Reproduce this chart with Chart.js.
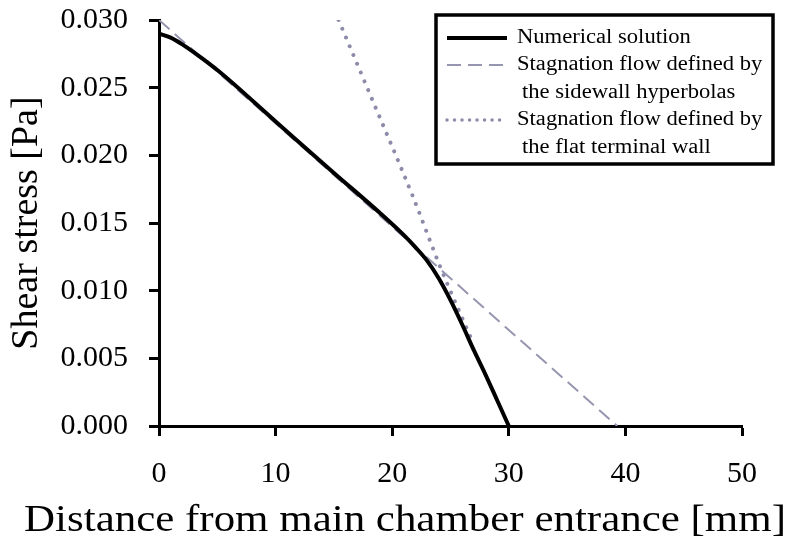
<!DOCTYPE html>
<html>
<head>
<meta charset="utf-8">
<script src="https://cdn.jsdelivr.net/npm/chart.js@4/dist/chart.umd.min.js"></script>
<style>
  body { margin: 0; background: #fff; }
  canvas { display: block; }
</style>
</head>
<body>
<canvas id="myChart" width="800" height="556"></canvas>
<script>
const FONT = "'Liberation Serif', 'Times New Roman', serif";

// numerical solution, distance [mm] vs shear stress [Pa]
const numX = [0, 1, 2, 3, 5, 10, 15, 19, 21, 22, 23, 24, 25, 26, 27, 28, 29, 30];
const numY = [0.0290, 0.0287, 0.0282, 0.0276, 0.0263, 0.0225, 0.0187, 0.0157, 0.0141, 0.0132, 0.0122, 0.0109, 0.0093, 0.0075, 0.0056, 0.0038, 0.0019, 0.0000];

// stagnation flow, sidewall hyperbolas
const hypX = [0, 39.3];
const hypY = [0.0300, 0.0000];

// stagnation flow, flat terminal wall
const flatX = [15.4, 18, 21.8, 24.1, 26.9];
const flatY = [0.0300, 0.0247, 0.0169, 0.0118, 0.0062];

const xTicks = [0, 10, 20, 30, 40, 50];
const yTicks = [0, 0.005, 0.010, 0.015, 0.020, 0.025, 0.030];

const xTitle = 'Distance from main chamber entrance [mm]';
const yTitle = 'Shear stress [Pa]';
const legendLabels = [
    ['Numerical solution'],
    ['Stagnation flow defined by', 'the sidewall hyperbolas'],
    ['Stagnation flow defined by', 'the flat terminal wall']
];

function pts(xs, ys) {
    return xs.map((x, i) => ({ x: x, y: ys[i] }));
}

const lineColor = 'rgb(150,150,176)';
const dotColor = 'rgb(140,140,170)';
const STRETCH = 1.13; // the original picture is a bit wider than tall

// legend box and x title drawn by hand
const extras = {
    id: 'extras',
    afterDraw(chart) {
        const ctx = chart.ctx;
        ctx.save();
        // x axis title, centred on the page
        ctx.fillStyle = '#000';
        ctx.font = '38px ' + FONT;
        ctx.textAlign = 'center';
        ctx.textBaseline = 'middle';
        ctx.save();
        ctx.scale(STRETCH, 1);
        ctx.fillText(xTitle, 405 / STRETCH, 521);
        ctx.restore();

        // legend
        ctx.fillStyle = '#fff';
        ctx.fillRect(436, 15, 337, 149);
        ctx.lineWidth = 3.5;
        ctx.strokeStyle = '#000';
        ctx.strokeRect(436, 15, 337, 149);

        ctx.font = '20px ' + FONT;
        ctx.textAlign = 'left';
        ctx.fillStyle = '#000';
        const rows = [38, 65, 120];
        const styles = [
            { c: '#000', w: 4, d: [], cap: 'butt' },
            { c: lineColor, w: 2, d: [14, 7], cap: 'butt' },
            { c: dotColor, w: 3.5, d: [0.01, 7.5], cap: 'round' }
        ];
        legendLabels.forEach((lab, i) => {
            const y = rows[i];
            const s = styles[i];
            ctx.beginPath();
            ctx.strokeStyle = s.c;
            ctx.lineWidth = s.w;
            ctx.setLineDash(s.d);
            ctx.lineCap = s.cap;
            ctx.moveTo(447, y);
            ctx.lineTo(507, y);
            ctx.stroke();
            ctx.setLineDash([]);
            lab.forEach((t, j) => {
                ctx.save();
                ctx.scale(STRETCH, 1);
                ctx.fillText(t, (j === 0 ? 517 : 522) / STRETCH, y + j * 27.5);
                ctx.restore();
            });
        });
        ctx.restore();
    }
};

const ctx = document.getElementById('myChart').getContext('2d');
const myChart = new Chart(ctx, {
    type: 'line',
    data: {
        datasets: [{
            label: 'Numerical solution',
            data: pts(numX, numY),
            borderColor: '#000',
            borderWidth: 4,
            pointRadius: 0,
            cubicInterpolationMode: 'monotone'
        }, {
            label: 'Stagnation flow defined by the sidewall hyperbolas',
            data: pts(hypX, hypY),
            borderColor: lineColor,
            borderWidth: 2,
            borderDash: [14, 7],
            pointRadius: 0
        }, {
            label: 'Stagnation flow defined by the flat terminal wall',
            data: pts(flatX, flatY),
            borderColor: dotColor,
            borderWidth: 4,
            borderDash: [0.01, 9.5],
            borderCapStyle: 'round',
            pointRadius: 0,
            cubicInterpolationMode: 'monotone'
        }]
    },
    options: {
        responsive: false,
        animation: false,
        layout: { padding: { left: 0, right: 58, top: 20, bottom: 0 } },
        plugins: {
            legend: { display: false },
            tooltip: { enabled: false }
        },
        scales: {
            x: {
                type: 'linear',
                min: 0,
                max: 50,
                afterBuildTicks: (scale) => { scale.ticks = xTicks.map(v => ({ value: v })); },
                afterFit: (scale) => {
                    scale.height = 130;
                    scale.paddingLeft = 0;
                    scale.paddingRight = 0;
                },
                ticks: {
                    color: '#000',
                    font: { family: FONT, size: 30 },
                    padding: 20,
                    maxRotation: 0
                },
                grid: { drawOnChartArea: false, tickLength: 10, tickWidth: 3, tickColor: '#000' },
                border: { color: '#000', width: 3 }
            },
            y: {
                type: 'linear',
                min: 0,
                max: 0.03,
                afterBuildTicks: (scale) => { scale.ticks = yTicks.map(v => ({ value: v })); },
                afterFit: (scale) => {
                    scale.width = 159;
                    scale.paddingTop = 0;
                    scale.paddingBottom = 0;
                },
                ticks: {
                    color: '#000',
                    font: { family: FONT, size: 30 },
                    padding: 21,
                    callback: (v) => v.toFixed(3)
                },
                grid: { drawOnChartArea: false, tickLength: 10, tickWidth: 3, tickColor: '#000' },
                border: { color: '#000', width: 3 },
                title: {
                    display: true,
                    text: yTitle,
                    color: '#000',
                    font: { family: FONT, size: 38 },
                    padding: { top: 4, bottom: 0 }
                }
            }
        }
    },
    plugins: [extras]
});
</script>
</body>
</html>
